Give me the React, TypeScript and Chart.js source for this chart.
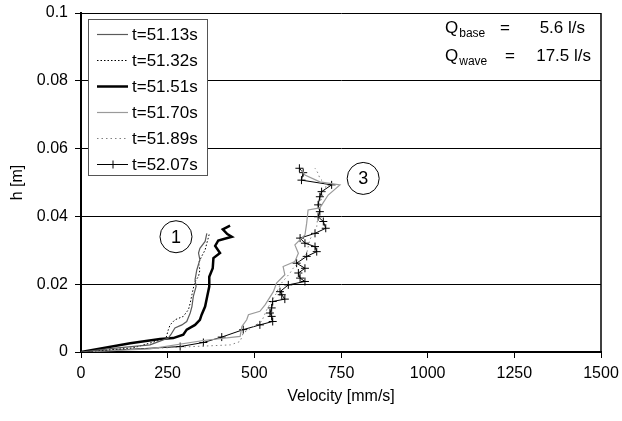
import React, { useEffect, useRef } from 'react';
import { Chart, registerables } from 'chart.js';

Chart.register(...registerables);

const FONT = "'Liberation Sans', Arial, sans-serif";

const seriesLabels = ['t=51.13s', 't=51.32s', 't=51.51s', 't=51.70s', 't=51.89s', 't=52.07s'];

// Velocity [mm/s] and height [m] per time step
const v5113 = [0, 84, 199, 252, 259, 271, 291, 305, 315, 320, 324, 332, 329, 334, 343, 339, 343, 358, 363];
const h5113 = [0, 0.001, 0.0021, 0.0041, 0.0051, 0.0071, 0.008, 0.009, 0.0115, 0.0134, 0.0164, 0.0193, 0.0213, 0.0242, 0.0272, 0.0292, 0.0306, 0.0326, 0.035];

const v5132 = [0, 150, 245, 252, 257, 271, 295, 310, 315, 320, 324, 329, 339, 343, 339, 348, 358, 363, 367, 370];
const h5132 = [0, 0.0012, 0.004, 0.0066, 0.008, 0.0095, 0.0105, 0.0125, 0.0144, 0.0169, 0.0188, 0.0208, 0.0223, 0.0242, 0.0262, 0.0282, 0.0301, 0.0321, 0.0336, 0.0348];

const v5151 = [0, 142, 228, 266, 295, 305, 329, 343, 348, 358, 364, 370, 370, 380, 382, 401, 387, 396, 435, 422, 409, 430];
const h5151 = [0, 0.0026, 0.0038, 0.0041, 0.0051, 0.0066, 0.008, 0.0095, 0.011, 0.0134, 0.0164, 0.0193, 0.0222, 0.0247, 0.0277, 0.0292, 0.0313, 0.0329, 0.034, 0.0348, 0.0362, 0.0373];

const v5170 = [0, 199, 353, 459, 464, 478, 483, 516, 531, 555, 564, 588, 583, 617, 627, 617, 646, 651, 655, 689, 713, 747, 689, 646, 637];
const h5170 = [0, 0.0009, 0.0034, 0.0046, 0.0075, 0.0095, 0.011, 0.012, 0.0139, 0.0178, 0.0203, 0.0228, 0.0252, 0.0267, 0.0291, 0.0316, 0.0345, 0.038, 0.0419, 0.0425, 0.0463, 0.0493, 0.0502, 0.0522, 0.0537];

const v5189 = [0, 150, 431, 459, 468, 521, 536, 564, 574, 603, 612, 651, 660, 680, 684, 689, 699, 708, 689, 684, 675];
const h5189 = [0, 0.0008, 0.0021, 0.0031, 0.0056, 0.009, 0.0125, 0.0174, 0.0198, 0.0233, 0.0247, 0.0291, 0.0331, 0.037, 0.0409, 0.0439, 0.0468, 0.0493, 0.0512, 0.0527, 0.0542];

const v5207 = [0, 286, 353, 406, 468, 516, 553, 550, 545, 550, 553, 588, 579, 574, 598, 646, 632, 627, 646, 622, 651, 680, 675, 646, 632, 675, 706, 699, 684, 689, 684, 689, 694, 723, 636, 641, 630];
const h5207 = [0, 0.0016, 0.0028, 0.0044, 0.0066, 0.008, 0.009, 0.0105, 0.0115, 0.013, 0.0149, 0.0156, 0.0169, 0.0178, 0.0198, 0.0208, 0.0218, 0.0233, 0.0247, 0.0262, 0.0282, 0.0296, 0.0311, 0.0321, 0.0336, 0.035, 0.0365, 0.0385, 0.0399, 0.0414, 0.0434, 0.0458, 0.0473, 0.0493, 0.0507, 0.0529, 0.0542];

const xTickLabels = ['0', '250', '500', '750', '1000', '1250', '1500'];
const yTickLabels = ['0', '0.02', '0.04', '0.06', '0.08', '0.1'];

// Circled group labels (data coordinates)
const groupLabels = ['1', '3'];
const groupV = [274, 814];
const groupH = [0.034, 0.0512];

const flowMain = ['Q', 'Q'];
const flowSub = ['base', 'wave'];
const flowValue = ['5.6 l/s', '17.5 l/s'];

const mk = (v: number[], h: number[]) => v.map((x, i) => ({ x, y: h[i] }));

const framePlugin = {
  id: 'frame',
  beforeDatasetsDraw(chart: any) {
    const { ctx, chartArea } = chart;
    ctx.save();
    ctx.strokeStyle = '#000';
    ctx.lineWidth = 1.5;
    ctx.beginPath();
    ctx.moveTo(chartArea.right, chartArea.top);
    ctx.lineTo(chartArea.right, chartArea.bottom);
    ctx.stroke();
    ctx.restore();
  },
};

const overlayPlugin = {
  id: 'overlay',
  afterDatasetsDraw(chart: any) {
    const { ctx, chartArea } = chart;
    const { left, top, right } = chartArea;
    ctx.save();
    // legend box
    const bx = Math.round(left + 7) + 0.5;
    const by = Math.round(top + 6) + 0.5;
    ctx.fillStyle = '#fff';
    ctx.fillRect(bx, by, 119, 156);
    ctx.strokeStyle = '#555';
    ctx.lineWidth = 1;
    ctx.setLineDash([]);
    ctx.strokeRect(bx, by, 119, 156);
    chart.data.datasets.forEach((ds: any, i: number) => {
      const y = Math.round(top + 20.5 + i * 26) + 0.5;
      ctx.save();
      ctx.strokeStyle = ds.borderColor;
      ctx.lineWidth = ds.borderWidth;
      ctx.setLineDash(ds.borderDash || []);
      ctx.beginPath();
      ctx.moveTo(left + 16, y);
      ctx.lineTo(left + 47, y);
      ctx.stroke();
      if (ds.pointRadius > 0) {
        ctx.setLineDash([]);
        ctx.lineWidth = 1;
        const cx = left + 32;
        ctx.beginPath();
        ctx.moveTo(cx, y - 4);
        ctx.lineTo(cx, y + 4);
        ctx.stroke();
      }
      ctx.restore();
      ctx.fillStyle = '#000';
      ctx.font = `17px ${FONT}`;
      ctx.textBaseline = 'middle';
      ctx.textAlign = 'left';
      ctx.fillText(ds.label, left + 51, y + 1);
    });

    // circled labels
    const xs = chart.scales.x;
    const ys = chart.scales.y;
    groupLabels.forEach((t, i) => {
      const cx = xs.getPixelForValue(groupV[i]);
      const cy = ys.getPixelForValue(groupH[i]);
      ctx.beginPath();
      ctx.arc(cx, cy, 16, 0, Math.PI * 2);
      ctx.fillStyle = '#fff';
      ctx.fill();
      ctx.strokeStyle = '#000';
      ctx.lineWidth = 1;
      ctx.stroke();
      ctx.fillStyle = '#000';
      ctx.font = `18px ${FONT}`;
      ctx.textAlign = 'center';
      ctx.textBaseline = 'middle';
      ctx.fillText(t, cx, cy + 1);
    });

    // flow text
    const baseX = right - 156;
    const eqX = [right - 101, right - 96];
    const ends = [right - 16, right - 10];
    const baselines = [top + 20, top + 48];
    flowMain.forEach((m, i) => {
      ctx.fillStyle = '#000';
      ctx.textBaseline = 'alphabetic';
      ctx.textAlign = 'left';
      ctx.font = `17px ${FONT}`;
      ctx.fillText(m, baseX, baselines[i]);
      const w = ctx.measureText(m).width;
      ctx.font = `12px ${FONT}`;
      ctx.fillText(flowSub[i], baseX + w + 1, baselines[i] + 4);
      ctx.font = `17px ${FONT}`;
      ctx.fillText('=', eqX[i], baselines[i]);
      ctx.textAlign = 'right';
      ctx.fillText(flowValue[i], ends[i], baselines[i]);
    });
    ctx.restore();
  },
};

export default function App() {
  const ref = useRef<HTMLCanvasElement | null>(null);

  useEffect(() => {
    if (!ref.current) return;
    const base = { tension: 0, pointRadius: 0, pointHoverRadius: 0, fill: false };
    const chart = new Chart(ref.current, {
      type: 'line',
      data: {
        datasets: [
          { ...base, label: seriesLabels[0], data: mk(v5113, h5113), borderColor: '#5a5a5a', borderWidth: 1.2 },
          { ...base, label: seriesLabels[1], data: mk(v5132, h5132), borderColor: '#000', borderWidth: 1, borderDash: [1.5, 2] },
          { ...base, label: seriesLabels[2], data: mk(v5151, h5151), borderColor: '#000', borderWidth: 2.5 },
          { ...base, label: seriesLabels[3], data: mk(v5170, h5170), borderColor: '#9a9a9a', borderWidth: 1.2 },
          { ...base, label: seriesLabels[4], data: mk(v5189, h5189), borderColor: '#808080', borderWidth: 1, borderDash: [1.5, 3] },
          {
            ...base,
            label: seriesLabels[5],
            data: mk(v5207, h5207),
            borderColor: '#000',
            borderWidth: 1,
            pointRadius: 4,
            pointStyle: 'cross',
            pointBorderColor: '#000',
            pointBorderWidth: 1,
          },
        ] as any,
      },
      options: {
        animation: false,
        responsive: true,
        maintainAspectRatio: false,
        events: [],
        layout: { padding: { left: 0, top: 13, right: 21, bottom: 0 } },
        plugins: { legend: { display: false }, tooltip: { enabled: false } },
        scales: {
          x: {
            type: 'linear',
            min: 0,
            max: 1500,
            afterFit: (s: any) => {
              s.height = 69;
              s.paddingLeft = 0;
              s.paddingRight = 0;
            },
            ticks: {
              stepSize: 250,
              color: '#000',
              padding: 6,
              maxRotation: 0,
              font: { family: FONT, size: 16 },
              callback: (_v: any, i: number) => xTickLabels[i],
            },
            grid: { drawOnChartArea: false, drawTicks: true, tickLength: 6, color: '#000', lineWidth: 1 },
            border: { display: true, color: '#000', width: 2 },
            title: { display: true, text: 'Velocity [mm/s]', color: '#000', font: { family: FONT, size: 16 }, padding: { top: 0, bottom: 15 } },
          },
          y: {
            type: 'linear',
            min: 0,
            max: 0.1,
            afterFit: (s: any) => {
              s.width = 81;
              s.paddingTop = 0;
              s.paddingBottom = 0;
            },
            ticks: {
              stepSize: 0.02,
              color: '#000',
              padding: 7,
              font: { family: FONT, size: 16 },
              callback: (_v: any, i: number) => yTickLabels[i],
            },
            grid: { color: '#000', lineWidth: 1, drawTicks: true, tickLength: 6, tickColor: '#000' },
            border: { display: true, color: '#000', width: 2 },
            title: { display: true, text: 'h [m]', color: '#000', font: { family: FONT, size: 16 }, padding: { top: 8, bottom: 0 } },
          },
        },
      } as any,
      plugins: [framePlugin, overlayPlugin],
    });
    return () => chart.destroy();
  }, []);

  return (
    <div style={{ position: 'absolute', left: 0, top: 0, width: 622, height: 421, background: '#fff' }}>
      <canvas ref={ref} />
    </div>
  );
}
